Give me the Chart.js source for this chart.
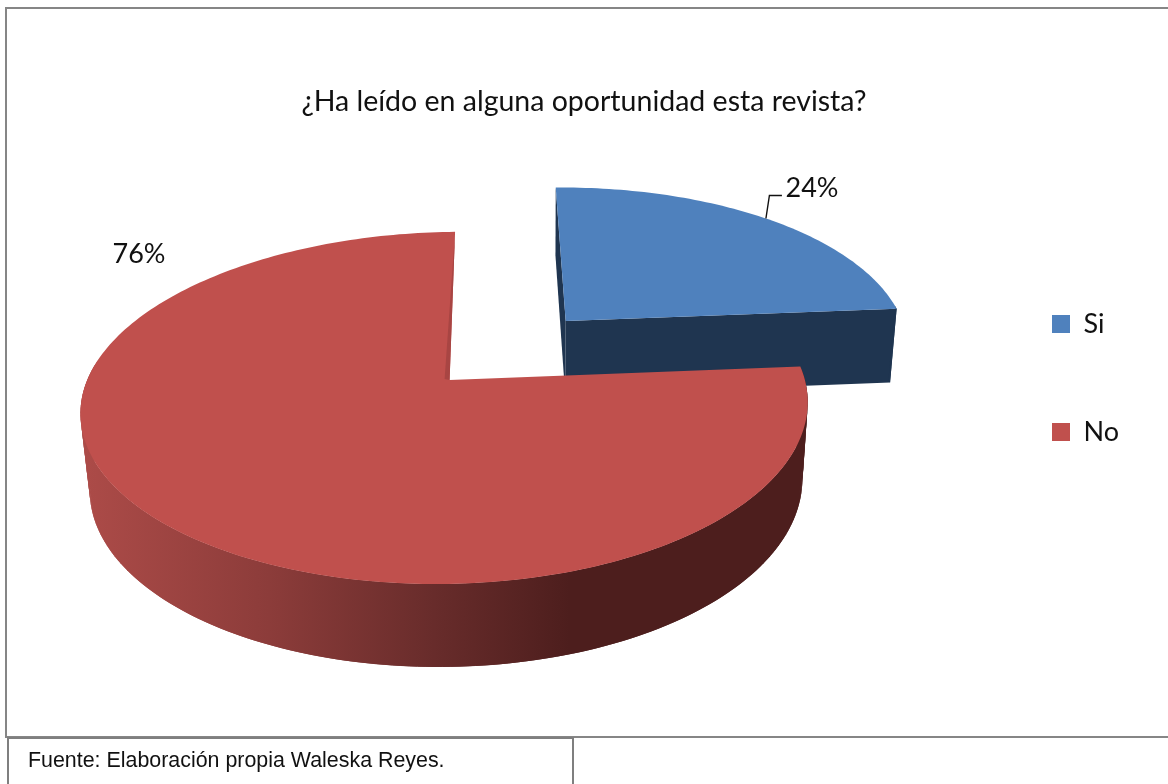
<!DOCTYPE html>
<html>
<head>
<meta charset="utf-8">
<style>
  html, body { margin: 0; padding: 0; background: #fff; overflow: hidden; }
  #wrap { position: relative; width: 1168px; height: 784px; overflow: hidden; }
  canvas { position: absolute; left: 0; top: 0; }
  .frame { position: absolute; left: 5px; top: 7px; width: 1170px; height: 727px; border: 2px solid #868686; box-sizing: content-box; pointer-events: none; }
  .source { position: absolute; left: 7px; top: 737px; width: 563px; height: 60px; border: 2px solid #7f7f7f; box-sizing: content-box;
            font: 21.4px "Liberation Sans", Arial, sans-serif; color: #111; }
  .source span { position: absolute; left: 19px; top: 9px; white-space: nowrap; }
</style>
</head>
<body>
<div id="wrap">
  <canvas id="chart" width="1168" height="784"></canvas>
  <div class="frame"></div>
  <div class="source"><span>Fuente: Elaboración propia Waleska Reyes.</span></div>
</div>
<script src="https://cdn.jsdelivr.net/npm/chart.js@4"></script>
<script>
const chartTitle = '¿Ha leído en alguna oportunidad esta revista?';
const categories = ['Si', 'No'];
const percentages = [24, 76];
const topColors = ['#4F81BD', '#C0504D'];
const wallColors = ['#1F3550', '#A84543'];

const FONT = 'Lato, Carlito, sans-serif';
const EXPLODE = 0.245;

// Camera for the tilted disc: plane coordinates (unit radius) to canvas pixels.
const cam = { xv: 489.5, x0: -40, y0: 380, a: 359, b: 171.6, k: 0.159, kx: 0.159,
              su: 0.168, sv: -0.179, cx: 1, cy: 78.8, mx: 0.02, my: 0.0315,
              skew: 0.008, bow: 0.0125 };

function project(u, v, z) {
  const up = u + cam.su, vp = v + cam.sv;
  const x = cam.xv + (cam.x0 + cam.a * up + z * cam.cx) / (1 - cam.kx * vp + z * cam.mx);
  const y = cam.y0 + (cam.b * vp + z * cam.cy) / (1 - cam.k * vp + z * cam.my);
  return { x, y: y - cam.skew * (x - 450) };
}

// Point on a slice rim at angle t, pushed outward along the slice's mid angle.
function rimPoint(arc, t, radius, z) {
  const mid = (arc.startAngle + arc.endAngle) / 2;
  const c = Math.cos(t);
  return project(radius * (c - cam.bow * c * c) + EXPLODE * Math.cos(mid),
                 radius * Math.sin(t) + EXPLODE * Math.sin(mid), z);
}

function fillPoly(ctx, pts, fill) {
  ctx.beginPath();
  pts.forEach((p, i) => i ? ctx.lineTo(p.x, p.y) : ctx.moveTo(p.x, p.y));
  ctx.closePath();
  ctx.fillStyle = fill;
  ctx.fill();
}

const pie3d = {
  id: 'pie3d',
  afterLayout(chart) {
    // The legend keeps its wide row gap but sits inside the frame.
    chart.legend.left = 971;
    chart.legend.top = -14;
    chart.legend.bottom = -14 + chart.legend.height;
  },
  beforeDatasetDraw(chart, args) {
    const ctx = chart.ctx;
    const arcs = args.meta.data;

    const rimFill = ctx.createLinearGradient(85, 0, 570, 0);
    rimFill.addColorStop(0, '#AC4B48');
    rimFill.addColorStop(0.38, '#8C3C3A');
    rimFill.addColorStop(0.72, '#682C2B');
    rimFill.addColorStop(1, '#4D1E1D');

    arcs.forEach((arc, i) => {
      const start = arc.startAngle, end = arc.endAngle;
      const steps = Math.max(8, Math.round((end - start) / 0.02));
      const angles = [];
      for (let s = 0; s <= steps; s++) angles.push(start + (end - start) * s / steps);
      const sideFill = i === 1 ? rimFill : wallColors[i];

      // Radial walls of the front slice stay behind its own top face
      if (i === 0) {
        [start, end].forEach(t => {
          fillPoly(ctx, [rimPoint(arc, t, 0, 0), rimPoint(arc, t, 1, 0),
                         rimPoint(arc, t, 1, 1), rimPoint(arc, t, 0, 1)], wallColors[i]);
        });
      }

      // Curved rim: overlapping strips, front-facing part only
      for (let s = 0; s < steps; s++) {
        const t0 = angles[s], t1 = angles[Math.min(s + 2, steps)];
        if (Math.sin(t0) < -0.1) continue;
        fillPoly(ctx, [rimPoint(arc, t0, 1, 0), rimPoint(arc, t1, 1, 0),
                       rimPoint(arc, t1, 1, 1), rimPoint(arc, t0, 1, 1)], sideFill);
      }

      // Top face
      fillPoly(ctx, [rimPoint(arc, start, 0, 0)].concat(angles.map(t => rimPoint(arc, t, 1, 0))),
               arc.options.backgroundColor);

      // Thin shaded edge along the notch of the large slice
      if (i === 1) {
        const apex = rimPoint(arc, end, 0, 0);
        fillPoly(ctx, [rimPoint(arc, end, 1, 0), apex, { x: apex.x - 5, y: apex.y - 1 }], wallColors[1]);
      }
    });
    return false;
  },
  afterDatasetsDraw(chart) {
    const ctx = chart.ctx;
    const arcs = chart.getDatasetMeta(0).data;
    const spots = [{ x: 812, y: 188 }, { x: 139, y: 254 }];
    ctx.save();

    // Leader from the blue rim up to its value label
    const a = arcs[0];
    const anchor = rimPoint(a, (a.startAngle + a.endAngle) / 2, 1, 0);
    ctx.beginPath();
    ctx.moveTo(anchor.x, anchor.y);
    ctx.lineTo(anchor.x + 3.5, anchor.y - 23);
    ctx.lineTo(anchor.x + 16, anchor.y - 23);
    ctx.strokeStyle = '#111';
    ctx.lineWidth = 1.4;
    ctx.stroke();

    ctx.font = '27px ' + FONT;
    ctx.fillStyle = '#111';
    ctx.textAlign = 'center';
    ctx.textBaseline = 'middle';
    percentages.forEach((p, i) => ctx.fillText(p + '%', spots[i].x, spots[i].y));
    ctx.restore();
  }
};

new Chart(document.getElementById('chart'), {
  type: 'pie',
  data: {
    labels: categories,
    datasets: [{ data: percentages, backgroundColor: topColors, borderWidth: 0 }]
  },
  options: {
    responsive: false,
    animation: false,
    events: [],
    plugins: {
      title: {
        display: true,
        text: chartTitle,
        color: '#111',
        font: { family: FONT, size: 28.5, weight: 'normal' },
        padding: { top: 85, bottom: 20 }
      },
      legend: {
        position: 'right',
        labels: {
          boxWidth: 18,
          boxHeight: 18,
          padding: 81,
          color: '#111',
          font: { family: FONT, size: 27 }
        }
      },
      tooltip: { enabled: false }
    }
  },
  plugins: [pie3d]
});
</script>
</body>
</html>
